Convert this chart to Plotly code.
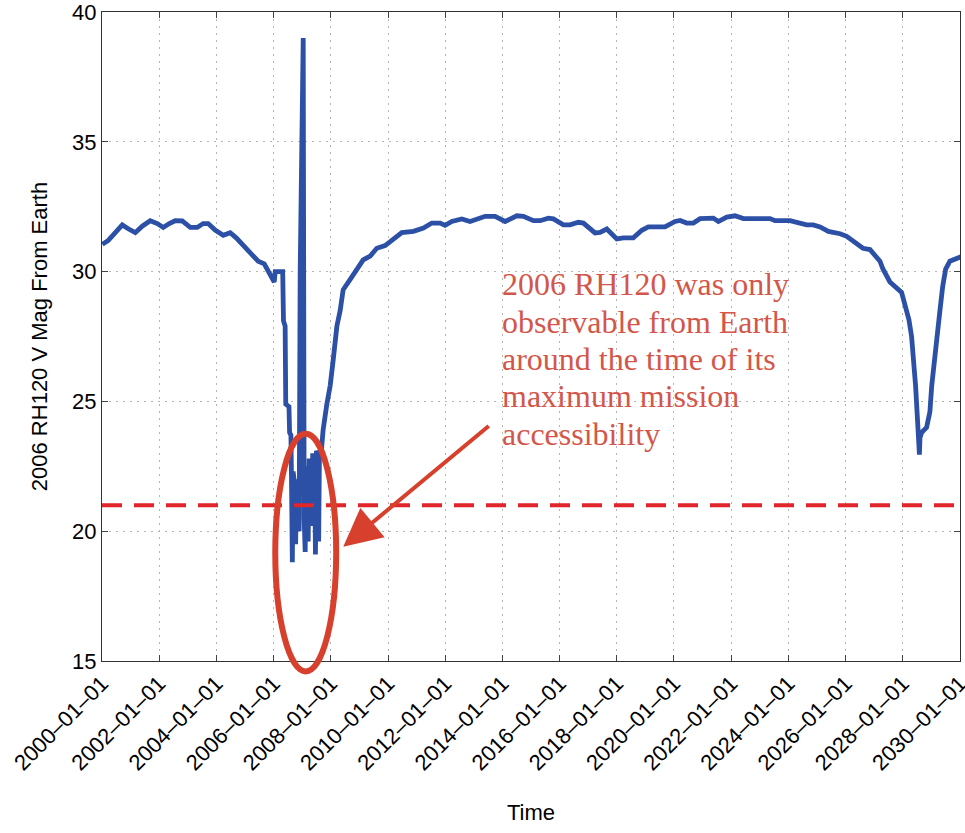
import plotly.graph_objects as go

# V magnitude of 2006 RH120 as seen from Earth
dates = [
    "2000-01-05", "2000-03-21", "2000-06-19", "2000-09-16", "2000-12-01",
    "2001-03-01", "2001-05-29", "2001-09-08", "2001-12-07", "2002-02-21",
    "2002-05-09", "2002-07-24", "2002-10-22", "2003-02-01", "2003-05-01",
    "2003-07-16", "2003-09-18", "2003-12-16", "2004-03-28", "2004-06-25",
    "2004-09-10", "2004-12-08", "2005-03-08", "2005-06-18", "2005-09-03",
    "2005-10-24", "2005-12-02", "2006-01-09", "2006-01-21", "2006-04-27",
    "2006-05-07", "2006-05-28", "2006-06-05", "2006-07-16", "2006-07-24",
    "2006-08-10", "2006-08-17", "2006-08-28", "2006-09-07", "2006-09-26",
    "2006-10-09", "2006-10-22", "2006-11-10", "2006-11-23", "2006-12-06",
    "2007-01-14", "2007-01-26", "2007-02-08", "2007-02-21", "2007-03-06",
    "2007-03-18", "2007-03-31", "2007-04-19", "2007-05-02", "2007-05-15",
    "2007-06-09", "2007-06-19", "2007-07-02", "2007-07-21", "2007-07-30",
    "2007-08-09", "2007-08-31", "2007-09-25", "2007-11-12", "2007-12-24",
    "2008-02-01", "2008-03-19", "2008-04-30", "2008-06-07", "2008-09-05",
    "2008-11-29", "2009-02-18", "2009-05-18", "2009-08-11", "2009-11-25",
    "2010-03-07", "2010-06-26", "2010-11-21", "2011-03-29", "2011-07-14",
    "2011-10-28", "2011-12-31", "2012-03-26", "2012-07-31", "2012-11-14",
    "2013-05-26", "2013-09-30", "2014-02-05", "2014-07-04", "2014-09-26",
    "2015-02-01", "2015-04-27", "2015-08-11", "2015-10-14", "2016-02-18",
    "2016-05-14", "2016-08-28", "2016-10-31", "2017-03-29", "2017-06-01",
    "2017-08-26", "2018-01-01", "2018-03-26", "2018-07-31", "2018-11-16",
    "2019-02-08", "2019-09-09", "2020-01-15", "2020-03-19", "2020-06-12",
    "2020-09-05", "2020-11-29", "2021-05-18", "2021-07-21", "2021-11-05",
    "2022-02-19", "2022-06-05", "2023-05-12", "2023-07-15", "2024-01-22",
    "2024-05-07", "2024-08-22", "2024-11-14", "2025-02-09", "2025-05-26",
    "2025-10-22", "2026-01-15", "2026-04-10", "2026-08-11", "2026-11-08",
    "2027-01-24", "2027-03-16", "2027-04-23", "2027-07-21", "2027-12-17",
    "2028-01-29", "2028-03-20", "2028-04-23", "2028-05-22", "2028-06-13",
    "2028-07-09", "2028-07-17", "2028-08-01", "2028-08-08", "2028-08-29",
    "2028-11-01", "2028-12-13", "2029-01-05", "2029-02-15", "2029-03-16",
    "2029-04-20", "2029-05-24", "2029-07-02", "2029-08-25", "2029-11-10",
    "2030-02-07",
]
vmag = [
    31.05, 31.2, 31.5, 31.8, 31.65,
    31.5, 31.75, 31.96, 31.85, 31.7,
    31.85, 31.96, 31.95, 31.7, 31.7,
    31.85, 31.85, 31.6, 31.4, 31.5,
    31.3, 31.0, 30.7, 30.4, 30.3,
    30.05, 29.85, 29.6, 30.0, 30.0,
    28.1, 27.9, 24.9, 24.8, 23.8,
    23.7, 22.1, 18.8, 22.3, 21.8,
    19.5, 22.0, 21.6, 20.0, 30.0,
    39.0, 20.5, 19.2, 22.5, 21.0,
    19.6, 22.8, 21.8, 20.2, 23.0,
    22.5, 19.1, 23.1, 22.9, 19.6,
    22.9, 23.0, 23.9, 24.9, 25.6,
    26.6, 27.9, 28.5, 29.3, 29.7,
    30.1, 30.45, 30.6, 30.9, 31.0,
    31.25, 31.5, 31.55, 31.68, 31.87,
    31.87, 31.78, 31.93, 32.03, 31.93,
    32.13, 32.13, 31.93, 32.15, 32.13,
    31.96, 31.96, 32.06, 32.03, 31.8,
    31.8, 31.9, 31.87, 31.49, 31.51,
    31.64, 31.26, 31.3, 31.3, 31.59,
    31.72, 31.72, 31.93, 31.97, 31.87,
    31.87, 32.04, 32.06, 31.93, 32.1,
    32.15, 32.04, 32.04, 31.96, 31.96,
    31.87, 31.8, 31.8, 31.72, 31.55,
    31.46, 31.36, 31.15, 30.9, 30.85,
    30.6, 30.4, 30.1, 29.6, 29.2,
    28.65, 28.15, 27.5, 26.6, 25.6,
    24.2, 23.0, 22.95, 23.6, 23.8,
    24.0, 24.6, 25.6, 26.6, 27.65,
    28.5, 29.4, 30.1, 30.4, 30.5,
    30.6,
]

limit_mag = 21
tick_years = list(range(2000, 2031, 2))
tick_vals = [f"{y}-01-01" for y in tick_years]
tick_text = [f"{y}\u201301\u201301" for y in tick_years]
note_lines = ["2006 RH120 was only", "observable from Earth",
              "around the time of its", "maximum mission", "accessibility"]

font = "Liberation Sans, Arial, Helvetica, sans-serif"
red = "#d7402c"

fig = go.Figure()
fig.add_scatter(x=dates, y=vmag, mode="lines",
                line=dict(color="#2c50a6", width=4.8), showlegend=False)

# limiting magnitude line
fig.add_shape(type="line", xref="paper", x0=0, x1=1, yref="y", y0=limit_mag, y1=limit_mag,
              line=dict(color="#e0252b", width=4, dash="20px,12px"))
# ellipse round the observable window
fig.add_shape(type="circle", xref="x", x0="2006-01-22", x1="2008-03-10",
              yref="paper", y0=-0.016, y1=0.35,
              line=dict(color=red, width=6))

fig.add_annotation(x="2008-06-08", y=19.4, xref="x", yref="y", ax=147, ay=-122,
                   text="", showarrow=True, arrowhead=2, arrowsize=1.9, arrowwidth=4,
                   arrowcolor=red)
# text block, one line at a time to keep the tight line spacing
for i, line in enumerate(note_lines):
    fig.add_annotation(x="2013-12-03", y=29.52 - 1.443 * i, xref="x", yref="y",
                       xanchor="left", yanchor="middle", showarrow=False, text=line,
                       font=dict(family="Liberation Serif, Times New Roman, serif",
                                 size=32, color="#d4564a"))

fig.update_xaxes(type="date", range=["2000-01-01", "2030-01-01 06:00"],
                 tickvals=tick_vals, ticktext=tick_text, tickangle=-45,
                 ticks="inside", ticklen=6, tickcolor="#444", automargin=False,
                 ticklabeloverflow="allow",
                 showline=True, linecolor="#333", linewidth=1, mirror="ticks",
                 showgrid=True, gridcolor="#b5b5b5", gridwidth=1, griddash="2px,5px",
                 zeroline=False, tickfont=dict(size=22, color="black"),
                 title=dict(text="Time", font=dict(size=22, color="black"), standoff=30))
fig.update_yaxes(range=[15, 40], dtick=5,
                 ticks="inside", ticklen=6, tickcolor="#444", automargin=False,
                 ticklabeloverflow="allow",
                 showline=True, linecolor="#333", linewidth=1, mirror="ticks",
                 showgrid=True, gridcolor="#b5b5b5", gridwidth=1, griddash="2px,5px",
                 zeroline=False, tickfont=dict(size=22, color="black"),
                 title=dict(text="2006 RH120 V Mag From Earth",
                            font=dict(size=22, color="black"), standoff=18))

fig.update_layout(width=965, height=833, font=dict(family=font),
                  paper_bgcolor="white", plot_bgcolor="white",
                  margin=dict(l=102, r=5, t=12, b=172))

# drop the browser's default body margin so the figure sits at the page corner
fig.write_html("out.html", config={"displayModeBar": False},
               post_script="document.body.style.margin='0';")
